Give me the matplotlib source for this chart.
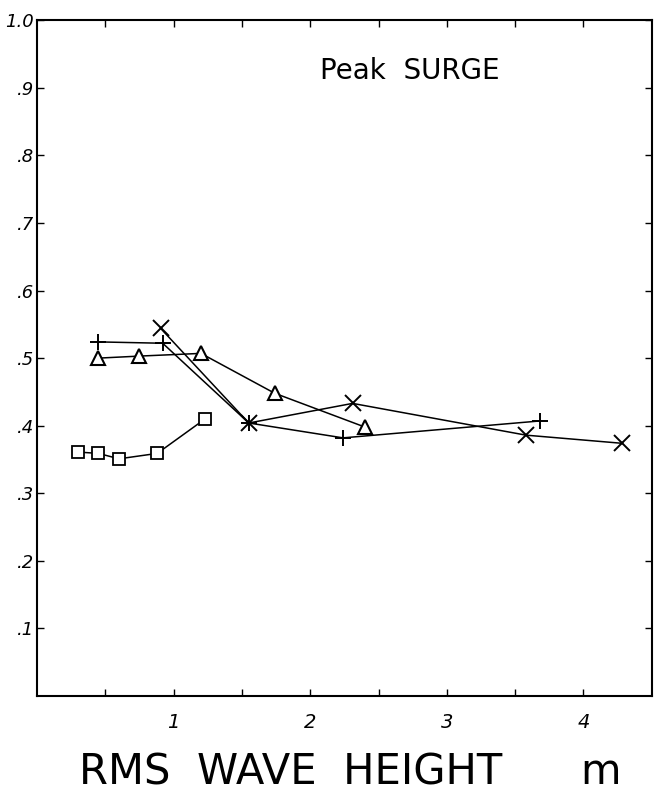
import matplotlib.pyplot as plt

# RMS wave height (m) vs peak surge
sq_x = [0.30, 0.45, 0.60, 0.88, 1.23]
sq_y = [0.361, 0.359, 0.351, 0.359, 0.410]

tri_x = [0.45, 0.75, 1.20, 1.74, 2.40]
tri_y = [0.500, 0.503, 0.507, 0.448, 0.398]

plus_x = [0.45, 0.92, 1.55, 2.24, 3.68]
plus_y = [0.524, 0.522, 0.404, 0.382, 0.407]

cross_x = [0.905, 1.55, 2.31, 3.58, 4.28]
cross_y = [0.544, 0.404, 0.433, 0.386, 0.374]

ytick_vals = [0.1, 0.2, 0.3, 0.4, 0.5, 0.6, 0.7, 0.8, 0.9, 1.0]
ytick_labels = ['.1', '.2', '.3', '.4', '.5', '.6', '.7', '.8', '.9', '1.0']
xtick_vals = [0.5, 1, 1.5, 2, 2.5, 3, 3.5, 4]
xtick_labels = ['', '1', '', '2', '', '3', '', '4']

fig = plt.figure(figsize=(6.61, 7.96), dpi=100)
ax = fig.add_axes([0.056, 0.1256, 0.930, 0.849])

lw = 1.1
ax.plot(sq_x, sq_y, color='black', lw=lw, marker='s', ms=9, mfc='white', mec='black', mew=1.3)
ax.plot(tri_x, tri_y, color='black', lw=lw, marker='^', ms=10, mfc='white', mec='black', mew=1.5)
ax.plot(plus_x, plus_y, color='black', lw=lw, marker='+', ms=12, mew=1.4)
ax.plot(cross_x, cross_y, color='black', lw=lw, marker='x', ms=11, mew=1.4)

ax.set_xlim(0, 4.5)
ax.set_ylim(0, 1.0)
ax.set_xticks(xtick_vals)
ax.set_xticklabels(xtick_labels, fontsize=14, style='italic')
ax.set_yticks(ytick_vals)
ax.set_yticklabels(ytick_labels, fontsize=13, style='italic')
ax.tick_params(direction='in', length=5, width=1, top=True, right=True)
ax.tick_params(axis='y', pad=2)
ax.tick_params(axis='x', pad=12)
for s in ax.spines.values():
    s.set_linewidth(1.5)

ax.text(0.46, 0.925, 'Peak  SURGE', transform=ax.transAxes, fontsize=20,
        ha='left', va='center')

fig.text(0.44, 0.030, 'RMS  WAVE  HEIGHT', ha='center', va='center', fontsize=30)
fig.text(0.908, 0.030, 'm', ha='center', va='center', fontsize=30)

plt.savefig('out.png', dpi=100)
